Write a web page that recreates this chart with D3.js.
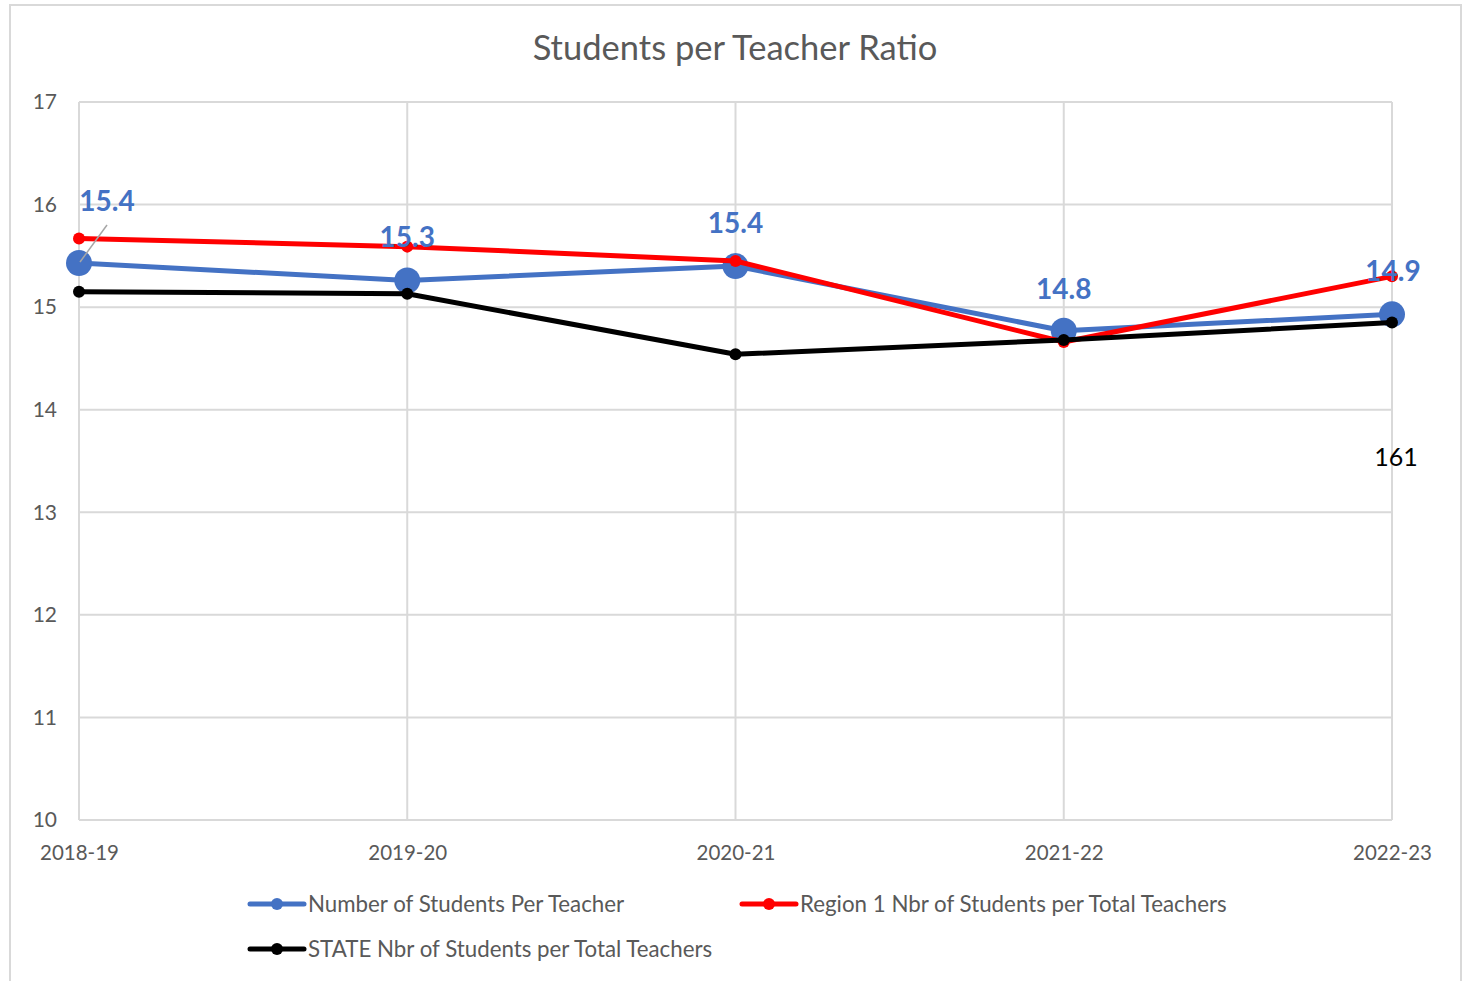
<!DOCTYPE html>
<html>
<head>
<meta charset="utf-8">
<script src="https://cdn.jsdelivr.net/npm/d3@7"></script>
<style>
  html, body { margin: 0; padding: 0; background: #fff; }
  svg { display: block; font-family: Lato, "Open Sans", sans-serif; }
</style>
</head>
<body>
<svg id="chart" width="1473" height="981"></svg>
<script>
// School years on the x axis
const years = ["2018-19", "2019-20", "2020-21", "2021-22", "2022-23"];
// Students per teacher, district
const district = [15.43, 15.26, 15.40, 14.77, 14.93];
// Region 1 students per total teachers
const region1 = [15.67, 15.59, 15.45, 14.66, 15.30];
// Statewide students per total teachers
const state = [15.15, 15.13, 14.54, 14.68, 14.85];
// Data labels shown on the district series
const districtLabels = ["15.4", "15.3", "15.4", "14.8", "14.9"];
// Y axis ticks
const yTicks = [10, 11, 12, 13, 14, 15, 16, 17];

const svg = d3.select("#chart");
const plotLeft = 79, plotRight = 1392, plotTop = 102, plotBottom = 820;

const x = d3.scalePoint().domain(years).range([plotLeft, plotRight]);
const y = d3.scaleLinear().domain([10, 17]).range([plotBottom, plotTop]);

// outer chart border
svg.append("rect")
  .attr("x", 10).attr("y", 5).attr("width", 1451).attr("height", 1000)
  .attr("fill", "none").attr("stroke", "#d9d9d9").attr("stroke-width", 2);

// title
svg.append("text")
  .attr("x", 735).attr("y", 60)
  .attr("text-anchor", "middle")
  .attr("font-size", 34.5).attr("fill", "#595959")
  .text("Students per Teacher Ratio");

// gridlines
const grid = svg.append("g");
grid.selectAll("line.h").data(yTicks).join("line")
  .attr("class", "h")
  .attr("x1", plotLeft).attr("x2", plotRight)
  .attr("y1", d => y(d)).attr("y2", d => y(d))
  .attr("stroke", "#d9d9d9").attr("stroke-width", 2);
grid.selectAll("line.v").data(years).join("line")
  .attr("class", "v")
  .attr("x1", d => x(d)).attr("x2", d => x(d))
  .attr("y1", plotTop).attr("y2", plotBottom)
  .attr("stroke", "#d9d9d9").attr("stroke-width", 2);

// y axis
const yAxis = svg.append("g")
  .attr("transform", `translate(${plotLeft},0)`)
  .call(d3.axisLeft(y).tickValues(yTicks).tickFormat(d3.format("d"))
    .tickSize(0).tickPadding(22));
yAxis.select(".domain").remove();
yAxis.selectAll("text").attr("font-size", 21).attr("fill", "#595959")
  .attr("font-family", "Lato, 'Open Sans', sans-serif");

// x axis
const xAxis = svg.append("g")
  .attr("transform", `translate(0,${plotBottom})`)
  .call(d3.axisBottom(x).tickSize(0).tickPadding(25));
xAxis.select(".domain").remove();
xAxis.selectAll("text").attr("font-size", 20.5).attr("fill", "#595959")
  .attr("font-family", "Lato, 'Open Sans', sans-serif");

const line = d3.line().x((d, i) => x(years[i])).y(d => y(d));

const series = [
  { values: district, color: "#4472C4", r: 13 },
  { values: region1, color: "#FF0000", r: 6 },
  { values: state, color: "#000000", r: 6 }
];

series.forEach(s => {
  const g = svg.append("g");
  g.append("path").datum(s.values)
    .attr("d", line).attr("fill", "none")
    .attr("stroke", s.color).attr("stroke-width", 5)
    .attr("stroke-linejoin", "round");
  g.selectAll("circle").data(s.values).join("circle")
    .attr("cx", (d, i) => x(years[i])).attr("cy", d => y(d))
    .attr("r", s.r).attr("fill", s.color);
});

// data labels for the district series
const labelPos = [
  { dx: 28, dy: -52 },
  { dx: 0, dy: -33 },
  { dx: 0, dy: -33 },
  { dx: 0, dy: -32 },
  { dx: 1, dy: -33 }
];
// leader line for the first label
svg.append("line")
  .attr("x1", x(years[0]) + 1).attr("y1", y(district[0]) - 1)
  .attr("x2", x(years[0]) + 28).attr("y2", y(district[0]) - 38)
  .attr("stroke", "#a6a6a6").attr("stroke-width", 1.5);
svg.append("g").selectAll("text").data(districtLabels).join("text")
  .attr("x", (d, i) => x(years[i]) + labelPos[i].dx)
  .attr("y", (d, i) => y(district[i]) + labelPos[i].dy)
  .attr("text-anchor", "middle")
  .attr("font-size", 28).attr("font-weight", "bold").attr("fill", "#4472C4")
  .text(d => d);

// stray label at the last category
svg.append("text")
  .attr("x", x(years[4]) + 4).attr("y", 466)
  .attr("text-anchor", "middle")
  .attr("font-size", 25).attr("fill", "#000")
  .text("161");

// legend
const legend = [
  { name: "Number of Students Per Teacher", color: "#4472C4", x: 250, y: 904 },
  { name: "Region 1 Nbr of Students per Total Teachers", color: "#FF0000", x: 742, y: 904 },
  { name: "STATE Nbr of Students per Total Teachers", color: "#000000", x: 250, y: 949 }
];
const lg = svg.append("g").selectAll("g").data(legend).join("g")
  .attr("transform", d => `translate(${d.x},${d.y})`);
lg.append("line").attr("x1", 0).attr("x2", 54).attr("y1", 0).attr("y2", 0)
  .attr("stroke", d => d.color).attr("stroke-width", 5).attr("stroke-linecap", "round");
lg.append("circle").attr("cx", 27).attr("cy", 0).attr("r", 6).attr("fill", d => d.color);
lg.append("text").attr("x", 58).attr("y", 8)
  .attr("font-size", 22.3).attr("fill", "#595959")
  .text(d => d.name);
</script>
</body>
</html>
